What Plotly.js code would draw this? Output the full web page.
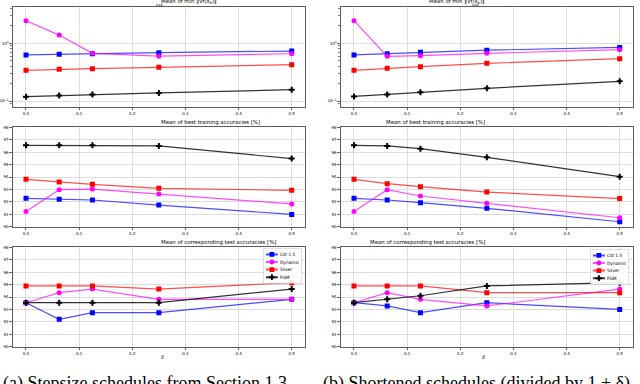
<!DOCTYPE html>
<html><head><meta charset="utf-8">
<script src="https://cdn.plot.ly/plotly-3.0.1.min.js"></script>
<style>html,body{margin:0;padding:0;background:#fff;}#c{width:640px;height:384px;}</style>
</head><body><div id="c"></div>
<script>
// ---- data ----
const delta = [0, 0.0625, 0.125, 0.25, 0.5];
const seriesNames = ["Cst 1.5", "Dynamic", "Silver", "FGM"];
const xTickVals = [0, 0.1, 0.2, 0.3, 0.4, 0.5];
const xTickText = ["0.0", "0.1", "0.2", "0.3", "0.4", "0.5"];
const accTickVals = [90, 91, 92, 93, 94, 95, 96, 97, 98];
const logTickVals = [0.1, 1];
const logTickText = ["10<sup>−1</sup>", "10<sup>0</sup>"];

// (a) gradient norm
const gradA_cst    = [0.63, 0.645, 0.66, 0.69, 0.735];
const gradA_dyn    = [2.47, 1.39, 0.67, 0.60, 0.66];
const gradA_silver = [0.34, 0.355, 0.363, 0.384, 0.426];
const gradA_fgm    = [0.119, 0.124, 0.129, 0.138, 0.157];
// (b) gradient norm
const gradB_cst    = [0.63, 0.66, 0.70, 0.76, 0.85];
const gradB_dyn    = [2.47, 0.595, 0.61, 0.67, 0.776];
const gradB_silver = [0.34, 0.369, 0.394, 0.45, 0.542];
const gradB_fgm    = [0.12, 0.13, 0.142, 0.166, 0.219];
// (a) training acc
const trainA_cst    = [92.28, 92.2, 92.15, 91.74, 90.99];
const trainA_dyn    = [91.23, 92.98, 93.03, 92.63, 91.83];
const trainA_silver = [93.81, 93.6, 93.41, 93.09, 92.93];
const trainA_fgm    = [96.55, 96.55, 96.55, 96.5, 95.48];
// (b) training acc
const trainB_cst    = [92.28, 92.15, 91.93, 91.48, 90.4];
const trainB_dyn    = [91.23, 92.98, 92.47, 91.88, 90.72];
const trainB_silver = [93.81, 93.46, 93.22, 92.79, 92.26];
const trainB_fgm    = [96.55, 96.5, 96.28, 95.58, 94.03];
// (a) test acc
const testA_cst    = [93.54, 92.2, 92.74, 92.74, 93.81];
const testA_dyn    = [93.54, 94.35, 94.64, 93.81, 93.81];
const testA_silver = [94.89, 94.89, 94.89, 94.64, 95.15];
const testA_fgm    = [93.54, 93.54, 93.54, 93.54, 94.64];
// (b) test acc
const testB_cst    = [93.54, 93.28, 92.74, 93.54, 93.0];
const testB_dyn    = [93.54, 94.35, 93.81, 93.28, 94.64];
const testB_silver = [94.89, 94.89, 94.89, 94.35, 94.35];
const testB_fgm    = [93.54, 93.81, 94.1, 94.89, 95.15];

// ---- styles ----
const lineCol = ["rgba(0,0,255,0.7)", "rgba(255,0,255,0.7)", "rgba(255,0,0,0.7)", "rgba(0,0,0,0.8)"];
const markCol = ["#0000ff", "#ff00ff", "#ff0000", "#000000"];
const symbols = ["square", "circle", "square", "cross"];

const panels = [
  {ax: "", data: [gradA_cst, gradA_dyn, gradA_silver, gradA_fgm], leg: null},
  {ax: "2", data: [gradB_cst, gradB_dyn, gradB_silver, gradB_fgm], leg: null},
  {ax: "3", data: [trainA_cst, trainA_dyn, trainA_silver, trainA_fgm], leg: null},
  {ax: "4", data: [trainB_cst, trainB_dyn, trainB_silver, trainB_fgm], leg: null},
  {ax: "5", data: [testA_cst, testA_dyn, testA_silver, testA_fgm], leg: "legend"},
  {ax: "6", data: [testB_cst, testB_dyn, testB_silver, testB_fgm], leg: "legend2"}
];

const traces = [];
panels.forEach(p => {
  p.data.forEach((ys, i) => {
    const t = {
      x: delta, y: ys, type: "scatter", mode: "lines+markers",
      name: seriesNames[i],
      xaxis: "x" + p.ax, yaxis: "y" + p.ax,
      line: {color: lineCol[i], width: 1.2},
      marker: {color: markCol[i], symbol: symbols[i], size: 5, line: {width: 0}},
      showlegend: !!p.leg
    };
    if (p.leg) t.legend = p.leg;
    traces.push(t);
  });
});

const W = 640, H = 384;
const colX = [[12.7 / W, 305 / W], [340.7 / W, 633 / W]];
const rowY = [[(H - 107) / H, (H - 7) / H], [(H - 226.7) / H, (H - 127.3) / H], [(H - 346.7) / H, (H - 247.3) / H]];

const tickFont = {family: "DejaVu Sans", size: 4, color: "#000"};
function xax(col, row) {
  const idx = row * 2 + col + 1;
  return {
    domain: colX[col], range: [-0.025, 0.525], anchor: "y" + (idx === 1 ? "" : idx),
    tickvals: xTickVals, ticktext: xTickText, tickfont: tickFont,
    ticks: "outside", ticklen: 2.5, tickwidth: 0.6, tickcolor: "#000",
    showgrid: true, gridcolor: "#dcdcdc", gridwidth: 1,
    showline: true, mirror: true, linecolor: "#333", linewidth: 0.8, zeroline: false
  };
}
function yax(col, row) {
  const idx = row * 2 + col + 1;
  const base = {
    domain: rowY[row], anchor: "x" + (idx === 1 ? "" : idx), tickfont: tickFont,
    ticks: "outside", ticklen: 2.5, tickwidth: 0.6, tickcolor: "#000",
    showgrid: true, gridcolor: "#dcdcdc", gridwidth: 1,
    showline: true, mirror: true, linecolor: "#333", linewidth: 0.8, zeroline: false
  };
  if (row === 0) {
    Object.assign(base, {type: "log", range: [-1.104, 0.63], tickvals: logTickVals, ticktext: logTickText,
      minor: {ticks: "outside", ticklen: 1.5, tickwidth: 0.5, tickcolor: "#000", showgrid: false,
              tickvals: [0.09, 0.2, 0.3, 0.4, 0.5, 0.6, 0.7, 0.8, 0.9, 2, 3, 4]}});
  } else {
    Object.assign(base, {range: [90, 98], tickvals: accTickVals});
  }
  return base;
}

const LS = 0.4; // legend scale
const legCommon = {font: {family: "DejaVu Sans", size: 11, color: "#000"}, bgcolor: "rgba(255,255,255,0.9)",
  bordercolor: "#cccccc", borderwidth: 1.5, itemwidth: 30, tracegroupgap: 0, itemsizing: "constant", yanchor: "top", xanchor: "right"};
const layout = {
  width: W, height: H, margin: {l: 0, r: 0, t: 0, b: 0},
  paper_bgcolor: "#fff", plot_bgcolor: "#fff",
  font: {family: "DejaVu Sans", color: "#000"},
  showlegend: true,
  legend: Object.assign({x: 303 / W, y: (H - 248) / H}, legCommon),
  legend2: Object.assign({x: 630 / W, y: (H - 249) / H}, legCommon),
  annotations: []
};
for (let r = 0; r < 3; r++) for (let c = 0; c < 2; c++) {
  const idx = r * 2 + c + 1;
  layout["xaxis" + (idx === 1 ? "" : idx)] = xax(c, r);
  layout["yaxis" + (idx === 1 ? "" : idx)] = yax(c, r);
}

const ttlFont = {family: "DejaVu Sans", size: 5.4, color: "#000"};
const centers = [(12.7 + 305) / 2 / W, (340.7 + 633) / 2 / W];
centers.forEach((cx, c) => {
  layout.annotations.push({xref: "paper", yref: "paper", x: cx, y: (H - 1.2) / H, yanchor: "middle", showarrow: false,
    text: "Mean of min ‖∇f(x<sub>k</sub>)‖", font: ttlFont});
  layout.annotations.push({xref: "paper", yref: "paper", x: cx - 5 / W, y: (H - 5.4) / H, yanchor: "middle", showarrow: false,
    text: "k≤K", font: {family: "DejaVu Sans", size: 3.3, color: "#000"}});
  layout.annotations.push({xref: "paper", yref: "paper", x: cx, y: (H - 122.7) / H, yanchor: "middle", showarrow: false,
    text: "Mean of best training accuracies [%]", font: ttlFont});
  layout.annotations.push({xref: "paper", yref: "paper", x: cx, y: (H - 242.7) / H, yanchor: "middle", showarrow: false,
    text: "Mean of corresponding test accuracies [%]", font: ttlFont});
  layout.annotations.push({xref: "paper", yref: "paper", x: cx, y: (H - 357) / H, yanchor: "middle", showarrow: false,
    text: "<i>δ</i>", font: {family: "DejaVu Sans", size: 5, color: "#000"}});
});
const capFont = {family: "Liberation Serif", size: 18, color: "#000"};
layout.annotations.push({xref: "paper", yref: "paper", x: 1 / W, xanchor: "left", y: (H - 370.5) / H, yanchor: "top", showarrow: false,
  text: "(a) Stepsize schedules from Section 1.3", font: capFont});
layout.annotations.push({xref: "paper", yref: "paper", x: 321 / W, xanchor: "left", y: (H - 370.5) / H, yanchor: "top", showarrow: false,
  text: "(b) Shortened schedules (divided by 1 + δ)", font: capFont});

Plotly.newPlot("c", traces, layout, {staticPlot: true, displayModeBar: false}).then(gd => {
  ["legend", "legend2"].forEach(id => {
    const g = gd.querySelector("g.infolayer g." + id);
    if (!g) return;
    const tr = g.getAttribute("transform") || "";
    const m = tr.match(/translate\(\s*([-\d.e]+)[ ,]+([-\d.e]+)\s*\)/);
    const bg = g.querySelector("rect.bg");
    if (!m || !bg) return;
    const x = parseFloat(m[1]), y = parseFloat(m[2]);
    const w = parseFloat(bg.getAttribute("width"));
    const nx = x + w * (1 - LS);
    g.setAttribute("transform", "translate(" + nx + "," + y + ") scale(" + LS + ")");
  });
});
</script></body></html>
